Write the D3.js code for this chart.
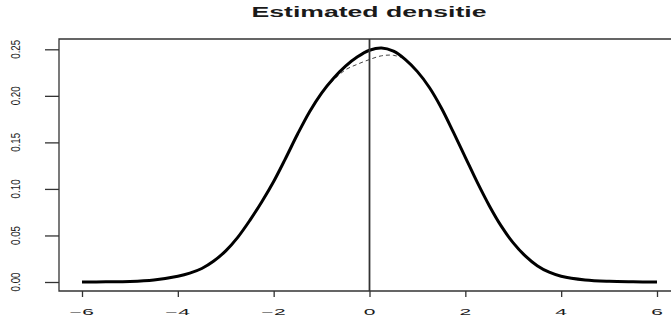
<!DOCTYPE html>
<html>
<head>
<meta charset="utf-8">
<script src="https://cdn.jsdelivr.net/npm/d3@7"></script>
<style>
  body { margin: 0; background: #fff; }
  text { font-family: "Liberation Sans", Arial, sans-serif; fill: #1a1a1a; }
</style>
</head>
<body>
<svg class="chart" width="671" height="322"></svg>
<script>
// values
const xs = [-6, -5.5, -5, -4.5, -4, -3.75, -3.5, -3.25, -3, -2.75, -2.5, -2.25, -2, -1.75, -1.5, -1.25, -1, -0.75, -0.5, -0.25,
            0, 0.25, 0.5, 0.75, 1, 1.25, 1.5, 1.75, 2, 2.25, 2.5, 2.75, 3, 3.25, 3.5, 3.75, 4, 4.5, 5, 5.5, 6];
const solidDensity = [0, 0.0002, 0.0006, 0.0022, 0.0062, 0.0095, 0.0145, 0.0225, 0.0335, 0.048, 0.066, 0.086, 0.108, 0.133, 0.159, 0.183, 0.203, 0.219, 0.232, 0.242,
            0.249, 0.2515, 0.248, 0.239, 0.226, 0.209, 0.187, 0.161, 0.134, 0.107, 0.082, 0.060, 0.042, 0.028, 0.0175, 0.0105, 0.0062, 0.0022, 0.0007, 0.0002, 0];
const dashedDensity = [0, 0.0002, 0.0006, 0.0022, 0.0062, 0.0095, 0.0145, 0.0225, 0.0335, 0.048, 0.066, 0.086, 0.108, 0.133, 0.159, 0.183, 0.203, 0.217, 0.228, 0.234,
            0.239, 0.243, 0.2435, 0.239, 0.226, 0.209, 0.187, 0.161, 0.134, 0.107, 0.082, 0.060, 0.042, 0.028, 0.0175, 0.0105, 0.0062, 0.0022, 0.0007, 0.0002, 0];
const vline = 0;
const xTicks = [-6, -4, -2, 0, 2, 4, 6];
const yTicks = [0, 0.05, 0.10, 0.15, 0.20, 0.25];
const title = "Estimated densitie";

const svg = d3.select(".chart");
const box = { left: 59, top: 39, bottom: 291, right: 672 };

const x = d3.scaleLinear().domain([-6, 6]).range([82, 657]);
const y = d3.scaleLinear().domain([0, 0.25]).range([282, 49.3]);

// plot frame (right side falls outside the picture)
svg.append("path")
    .attr("d", `M${box.right},${box.top}H${box.left}V${box.bottom}H${box.right}`)
    .attr("fill", "none")
    .attr("stroke", "#333")
    .attr("stroke-width", 1.3);

// axes
const gx = svg.append("g")
    .attr("transform", `translate(0,${box.bottom})`)
    .call(d3.axisBottom(x).tickValues(xTicks).tickSize(6).tickFormat(""));
const gy = svg.append("g")
    .attr("transform", `translate(${box.left},0)`)
    .call(d3.axisLeft(y).tickValues(yTicks).tickSize(14).tickFormat(""));
[gx, gy].forEach(g => {
    g.select(".domain").remove();
    g.selectAll(".tick line").attr("stroke", "#333").attr("stroke-width", 1.3);
});

// tick labels (stretched like the original raster)
svg.append("g").selectAll("text")
    .data(xTicks)
    .enter().append("text")
    .attr("transform", d => `translate(${x(d)},315) scale(1.75,0.7)`)
    .attr("text-anchor", "middle")
    .attr("font-size", 12)
    .text(d => d3.format("d")(d));

svg.append("g").selectAll("text")
    .data(yTicks)
    .enter().append("text")
    .attr("transform", d => `translate(20,${y(d)}) rotate(-90) scale(0.81,1.05)`)
    .attr("text-anchor", "middle")
    .attr("font-size", 12)
    .text(d => d3.format(".2f")(d));

// title
svg.append("text")
    .attr("x", 369)
    .attr("y", 17.3)
    .attr("text-anchor", "middle")
    .attr("font-size", 14)
    .attr("font-weight", "bold")
    .attr("textLength", 235)
    .attr("lengthAdjust", "spacingAndGlyphs")
    .text(title);

const line = d3.line()
    .x(d => x(d[0]))
    .y(d => y(d[1]))
    .curve(d3.curveCatmullRom);

// dashed estimate
svg.append("path")
    .datum(xs.map((v, i) => [v, dashedDensity[i]]))
    .attr("d", line)
    .attr("fill", "none")
    .attr("stroke", "#444")
    .attr("stroke-width", 1)
    .attr("stroke-dasharray", "4,3");

// solid estimate
svg.append("path")
    .datum(xs.map((v, i) => [v, solidDensity[i]]))
    .attr("d", line)
    .attr("fill", "none")
    .attr("stroke", "#000")
    .attr("stroke-width", 3);

// vertical reference line
svg.append("line")
    .attr("x1", x(vline)).attr("x2", x(vline))
    .attr("y1", box.top).attr("y2", box.bottom)
    .attr("stroke", "#333")
    .attr("stroke-width", 1.8);
</script>
</body>
</html>
